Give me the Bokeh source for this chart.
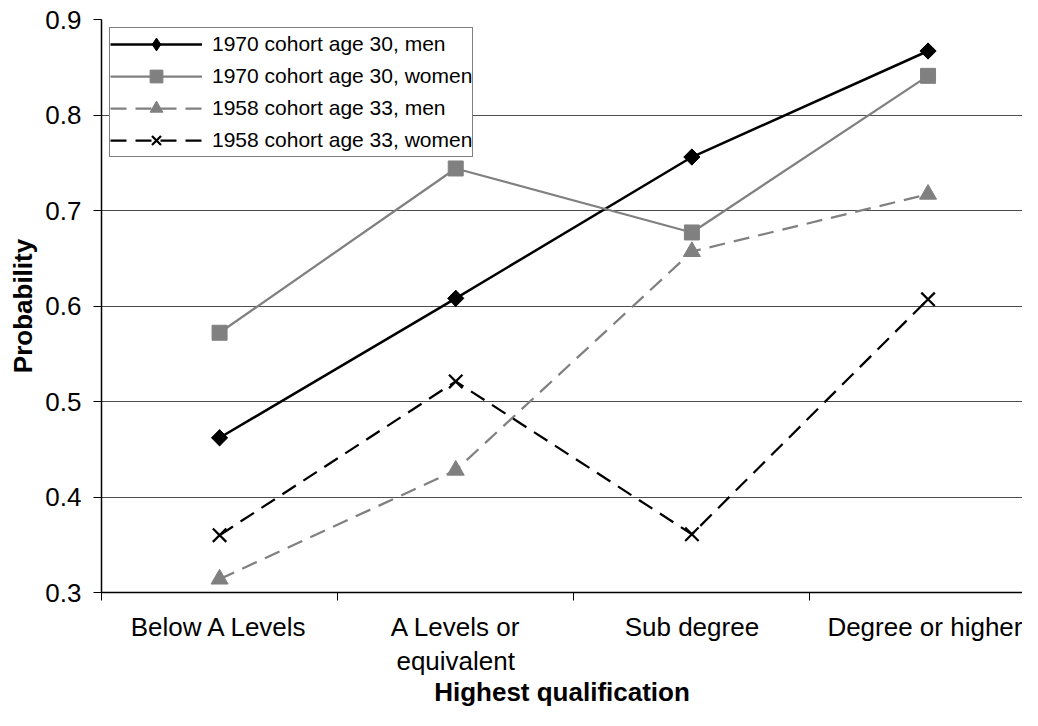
import numpy as np
from bokeh.plotting import figure
from bokeh.models import Range1d, FixedTicker, Legend, LegendItem
from bokeh.embed import file_html
from bokeh.resources import INLINE

# ---- data ----
categories = ["Below A Levels", "A Levels or\nequivalent", "Sub degree", "Degree or higher"]
men_1970 = [0.462, 0.608, 0.756, 0.867]
women_1970 = [0.572, 0.744, 0.677, 0.841]
men_1958 = [0.314, 0.428, 0.657, 0.717]
women_1958 = [0.360, 0.521, 0.361, 0.607]
y_ticks = [0.3, 0.4, 0.5, 0.6, 0.7, 0.8, 0.9]
series_names = ["1970 cohort age 30, men", "1970 cohort age 30, women",
                "1958 cohort age 33, men", "1958 cohort age 33, women"]

x_centers = [i + 0.5 for i in range(len(categories))]
x_bounds = [float(i) for i in range(len(categories) + 1)]

FONT = "Liberation Sans"
GRAY = "#808080"

p = figure(width=1022, height=710, output_backend="svg", toolbar_location=None,
           x_range=Range1d(0, 3.9), y_range=Range1d(0.3, 0.9),
           min_border_left=101, min_border_right=0, min_border_top=19, min_border_bottom=112)
p.outline_line_color = None
p.background_fill_color = "white"
p.border_fill_color = "white"

# grid
p.xgrid.visible = False
p.ygrid.ticker = FixedTicker(ticks=y_ticks)
p.ygrid.grid_line_color = "#4d4d4d"
p.ygrid.grid_line_width = 1

# x axis
xa = p.xaxis[0]
xa.ticker = FixedTicker(ticks=x_centers, minor_ticks=x_bounds)
xa.major_label_overrides = {x: c for x, c in zip(x_centers, categories)}
xa.major_tick_out = 0
xa.major_tick_in = 0
xa.minor_tick_out = 8
xa.minor_tick_in = 0
xa.minor_tick_line_color = "black"
xa.axis_line_color = "black"
xa.axis_line_width = 1.5
xa.major_label_text_font = FONT
xa.major_label_text_font_size = "26px"
xa.major_label_text_line_height = 1.15
xa.major_label_text_color = "black"
xa.major_label_standoff = 11
xa.axis_label = "Highest qualification"
xa.axis_label_text_font = FONT
xa.axis_label_text_font_size = "26px"
xa.axis_label_text_font_style = "bold"
xa.axis_label_text_color = "black"
xa.axis_label_standoff = -2

# y axis
ya = p.yaxis[0]
ya.ticker = FixedTicker(ticks=y_ticks, minor_ticks=[])
ya.major_tick_out = 8
ya.major_tick_in = 0
ya.major_tick_line_color = "black"
ya.axis_line_color = "black"
ya.axis_line_width = 1.5
ya.major_label_text_font = FONT
ya.major_label_text_font_size = "26px"
ya.major_label_text_color = "black"
ya.major_label_standoff = 12
ya.axis_label = "Probability"
ya.axis_label_text_font = FONT
ya.axis_label_text_font_size = "26px"
ya.axis_label_text_font_style = "bold"
ya.axis_label_text_color = "black"
ya.axis_label_standoff = 4

# series
l1 = p.line(x_centers, men_1970, line_color="black", line_width=2.5)
m1_leg = p.scatter(x_centers, men_1970, marker="diamond", size=16,
                   fill_color="black", line_color="black")
m1 = p.scatter(x_centers, men_1970, marker="square", angle=np.pi / 4, size=11.5,
               fill_color="black", line_color="black")

l2 = p.line(x_centers, women_1970, line_color=GRAY, line_width=2.25)
m2 = p.scatter(x_centers, women_1970, marker="square", size=15,
               fill_color=GRAY, line_color=GRAY)

l3 = p.line(x_centers, men_1958, line_color=GRAY, line_width=2.25, line_dash="16 9")
m3 = p.scatter(x_centers, men_1958, marker="triangle", size=17,
               fill_color=GRAY, line_color=GRAY)

l4 = p.line(x_centers, women_1958, line_color="black", line_width=2.25, line_dash="16 9")
m4 = p.scatter(x_centers, women_1958, marker="x", size=19,
               line_color="black", line_width=2.25)

legend = Legend(items=[
    LegendItem(label=series_names[0], renderers=[l1, m1_leg]),
    LegendItem(label=series_names[1], renderers=[l2, m2]),
    LegendItem(label=series_names[2], renderers=[l3, m3]),
    LegendItem(label=series_names[3], renderers=[l4, m4]),
], location="top_left")
legend.margin = 8
legend.padding = 0
legend.spacing = 0
legend.glyph_width = 92
legend.glyph_height = 32
legend.label_height = 32
legend.label_standoff = 10
legend.label_text_font = FONT
legend.label_text_font_size = "21px"
legend.label_text_color = "black"
legend.border_line_color = "black"
legend.border_line_width = 1
legend.background_fill_color = "white"
legend.background_fill_alpha = 1
p.add_layout(legend, "center")

open("out.html", "w").write(file_html(p, INLINE))
